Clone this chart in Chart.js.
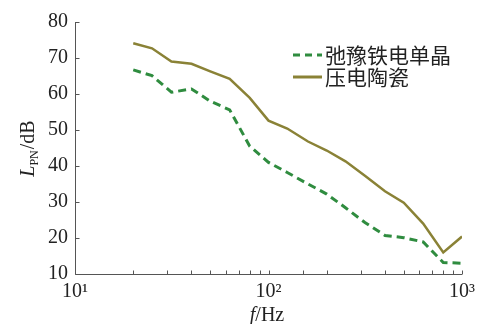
<!DOCTYPE html>
<html>
<head>
<meta charset="utf-8">
<script src="https://cdn.jsdelivr.net/npm/chart.js@4"></script>
<style>
  html, body { margin: 0; padding: 0; background: #fff; }
</style>
</head>
<body>
<canvas id="chart" width="481" height="324"></canvas>
<script>
// 1/3-octave centre frequencies (Hz)
const freqs = [20, 25, 31.5, 40, 50, 63, 80, 100, 125, 160, 200, 250, 315, 400, 500, 630, 800, 1000];
// L_PN (dB)
const crystal = [66.7, 65.1, 60.5, 61.4, 58.0, 55.6, 45.5, 41.0, 38.2, 35.0, 32.2, 28.4, 24.3, 20.7, 20.1, 18.9, 13.2, 13.0];
const ceramic = [74.1, 72.7, 69.0, 68.4, 66.3, 64.2, 58.9, 52.6, 50.4, 46.8, 44.3, 41.3, 37.3, 33.0, 29.8, 24.0, 16.0, 20.4];

const seriesNames = ["弛豫铁电单晶", "压电陶瓷"];
const yTicks = [10, 20, 30, 40, 50, 60, 70, 80];
const xMajor = { 10: "10\u00B9", 100: "10\u00B2", 1000: "10\u00B3" };

const GREEN = "#2f8c3f";
const OLIVE = "#8a8236";
const AXIS = "#555";
const SERIF = "'Liberation Serif', 'DejaVu Serif', serif";
const CJK = "'Noto Sans CJK SC', sans-serif";

function points(ys) {
  return freqs.map((f, i) => ({ x: f, y: ys[i] }));
}

// axes with inward ticks, legend and axis titles
const decor = {
  id: "decor",
  afterDraw(chart) {
    const { ctx, chartArea: a, scales: { x, y } } = chart;
    ctx.save();
    ctx.strokeStyle = AXIS;
    ctx.lineWidth = 1;
    ctx.setLineDash([]);
    ctx.beginPath();
    const L = Math.round(a.left) + 0.5, B = Math.round(a.bottom) + 0.5;
    ctx.moveTo(L, a.top);
    ctx.lineTo(L, B);
    ctx.lineTo(a.right, B);
    x.ticks.forEach(t => {
      const px = Math.round(x.getPixelForValue(t.value)) + 0.5;
      ctx.moveTo(px, B);
      ctx.lineTo(px, B - 4);
    });
    y.ticks.forEach(t => {
      const py = Math.round(y.getPixelForValue(t.value)) + 0.5;
      ctx.moveTo(L, py);
      ctx.lineTo(L + 4, py);
    });
    ctx.stroke();

    // legend
    const rows = [
      { name: seriesNames[0], color: GREEN, dash: [7, 5], y: 55 },
      { name: seriesNames[1], color: OLIVE, dash: [], y: 77 }
    ];
    rows.forEach(r => {
      ctx.strokeStyle = r.color;
      ctx.lineWidth = 3;
      ctx.setLineDash(r.dash);
      ctx.beginPath();
      ctx.moveTo(293, r.y);
      ctx.lineTo(322, r.y);
      ctx.stroke();
      ctx.fillStyle = "#222";
      ctx.font = "21px " + CJK;
      ctx.textBaseline = "middle";
      ctx.textAlign = "left";
      ctx.fillText(r.name, 325, r.y);
    });

    // x title: f/Hz
    ctx.fillStyle = "#222";
    ctx.textBaseline = "alphabetic";
    ctx.font = "italic 20px " + SERIF;
    const fw = ctx.measureText("f").width;
    ctx.font = "20px " + SERIF;
    const hw = ctx.measureText("/Hz").width;
    let sx = 267 - (fw + hw) / 2;
    ctx.font = "italic 20px " + SERIF;
    ctx.fillText("f", sx, 321);
    ctx.font = "20px " + SERIF;
    ctx.fillText("/Hz", sx + fw, 321);

    // y title: L_PN/dB
    ctx.translate(34, 149);
    ctx.rotate(-Math.PI / 2);
    ctx.font = "italic 20px " + SERIF;
    const lw = ctx.measureText("L").width;
    ctx.font = "12px " + SERIF;
    const pw = ctx.measureText("PN").width;
    ctx.font = "20px " + SERIF;
    const dw = ctx.measureText("/dB").width;
    let tx = -(lw + pw + dw) / 2;
    ctx.font = "italic 20px " + SERIF;
    ctx.fillText("L", tx, 0);
    ctx.font = "12px " + SERIF;
    ctx.fillText("PN", tx + lw, 4);
    ctx.font = "20px " + SERIF;
    ctx.fillText("/dB", tx + lw + pw + 1, 0);
    ctx.restore();
  }
};

new Chart(document.getElementById("chart"), {
  type: "line",
  data: {
    datasets: [
      {
        label: seriesNames[0],
        data: points(crystal),
        borderColor: GREEN,
        borderWidth: 3,
        borderDash: [8, 5],
        pointRadius: 0,
        tension: 0,
        fill: false
      },
      {
        label: seriesNames[1],
        data: points(ceramic),
        borderColor: OLIVE,
        borderWidth: 2.5,
        pointRadius: 0,
        tension: 0,
        fill: false
      }
    ]
  },
  options: {
    responsive: false,
    animation: false,
    layout: { padding: { left: 0, top: 22, right: 18, bottom: 0 } },
    plugins: {
      legend: { display: false },
      tooltip: { enabled: false }
    },
    scales: {
      x: {
        type: "logarithmic",
        min: 10,
        max: 1000,
        grid: { display: false, drawTicks: false },
        border: { display: false },
        afterFit: s => { s.height = 50; },
        ticks: {
          autoSkip: false,
          maxRotation: 0,
          padding: 6,
          color: "#222",
          font: { family: SERIF, size: 20 },
          callback: v => xMajor[v] || ""
        }
      },
      y: {
        min: 10,
        max: 80,
        grid: { display: false, drawTicks: false },
        border: { display: false },
        afterFit: s => { s.width = 75; },
        afterBuildTicks: s => { s.ticks = yTicks.map(v => ({ value: v })); },
        ticks: {
          padding: 7,
          color: "#222",
          font: { family: SERIF, size: 20 }
        }
      }
    }
  },
  plugins: [decor]
});
</script>
</body>
</html>
